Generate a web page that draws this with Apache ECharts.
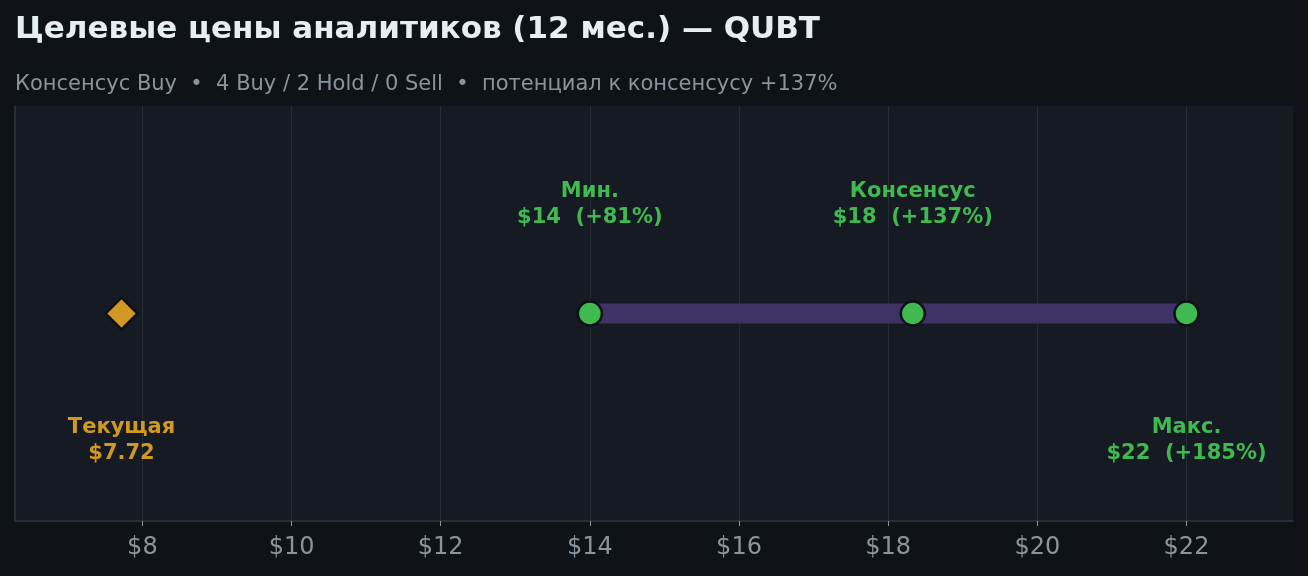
<!DOCTYPE html>
<html><head><meta charset="utf-8">
<script src="https://cdn.jsdelivr.net/npm/echarts@6/dist/echarts.min.js"></script>
<style>html,body{margin:0;padding:0;background:#0f1318;}#c{width:1308px;height:576px;}</style>
</head><body><div id="c"></div>
<script>
const titleText = 'Целевые цены аналитиков (12 мес.) — QUBT';
const subtitleText = 'Консенсус Buy  •  4 Buy / 2 Hold / 0 Sell  •  потенциал к консенсусу +137%';
const tickValues = [8, 10, 12, 14, 16, 18, 20, 22];
const currentPrice = 7.72;
const currentLabel = ['Текущая', '$7.72'];
const targetNames = ['Мин.', 'Консенсус', 'Макс.'];
const targetValues = [14, 18.33, 22];
const targetTexts = ['$14  (+81%)', '$18  (+137%)', '$22  (+185%)'];
const targetAbove = [true, true, false];

const span = targetValues[2] - currentPrice;
const xMin = Math.min(currentPrice, targetValues[0]) - span * 0.1;
const xMax = targetValues[2] + span * 0.1;

const FONT = 'DejaVu Sans';
const green = '#3fb950', gold = '#d29922', dark = '#0d1117';

const chart = echarts.init(document.getElementById('c'), null, {renderer: 'canvas'});
chart.setOption({
  backgroundColor: '#0f1318',
  animation: false,
  title: [
    {text: titleText, left: 15, top: 14, padding: 0, textStyle: {color: '#e6edf3', fontFamily: FONT, fontWeight: 'bold', fontSize: 31}},
    {text: subtitleText, left: 15, top: 74, padding: 0, textStyle: {color: '#8b949e', fontFamily: FONT, fontWeight: 'normal', fontSize: 21}}
  ],
  grid: {left: 15, right: 15, top: 106, bottom: 55, show: true, backgroundColor: '#161a22', borderWidth: 0},
  xAxis: {
    type: 'value', min: xMin, max: xMax,
    axisLine: {show: true, onZero: false, lineStyle: {color: '#30363d', width: 1.5}},
    axisTick: {show: true, customValues: tickValues, length: 5, lineStyle: {color: '#8b949e'}},
    axisLabel: {customValues: tickValues, color: '#8b949e', fontFamily: FONT, fontSize: 24, margin: 15, formatter: v => '$' + v},
    splitLine: {show: false}
  },
  yAxis: {
    type: 'value', min: -1, max: 1, show: true,
    axisLine: {show: true, lineStyle: {color: '#30363d', width: 1.5}},
    axisTick: {show: false}, axisLabel: {show: false}, splitLine: {show: false}
  },
  series: [
    {
      type: 'line', data: [], z: 1, silent: true,
      markLine: {
        silent: true, symbol: 'none', label: {show: false}, z: 1,
        lineStyle: {color: '#262b34', width: 1, type: 'solid'},
        data: tickValues.map(v => ({xAxis: v}))
      }
    },
    {
      type: 'line', data: [[targetValues[0], 0], [targetValues[2], 0]], symbol: 'none', silent: true,
      lineStyle: {color: '#3f3266', width: 20, cap: 'butt', opacity: 1}, z: 3
    },
    {
      type: 'scatter', z: 5,
      data: targetValues.map((v, i) => ({
        value: [v, 0],
        label: {
          show: true, position: targetAbove[i] ? 'top' : 'bottom', distance: targetAbove[i] ? 70 : 88,
          formatter: targetNames[i] + '\n' + targetTexts[i],
          color: green, fontFamily: FONT, fontWeight: 'bold', fontSize: 21, lineHeight: 26, align: 'center', opacity: 1
        }
      })),
      symbol: 'circle', symbolSize: 24,
      itemStyle: {color: green, borderColor: dark, borderWidth: 2.5, opacity: 1}
    },
    {
      type: 'scatter', z: 5,
      data: [{
        value: [currentPrice, 0],
        label: {
          show: true, position: 'bottom', distance: 84,
          formatter: currentLabel.join('\n'),
          color: gold, fontFamily: FONT, fontWeight: 'bold', fontSize: 21, lineHeight: 26, align: 'center', opacity: 1
        }
      }],
      symbol: 'diamond', symbolSize: [32, 32],
      itemStyle: {color: gold, borderColor: dark, borderWidth: 2.5, opacity: 1}
    }
  ]
});
</script></body></html>
